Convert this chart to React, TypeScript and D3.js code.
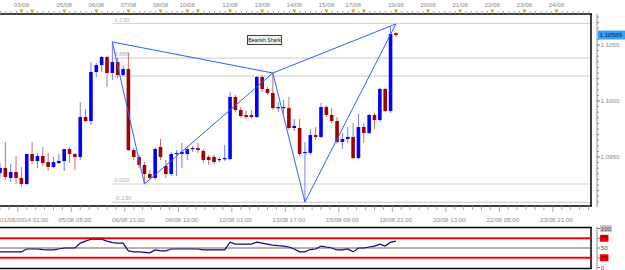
import React, { useEffect, useRef } from 'react';
import * as d3 from 'd3';

// ---- data (EURUSD-like H4 candles) ----
const opens = [1.09357,1.09402,1.09313,1.09366,1.09313,1.09259,1.09527,1.09464,1.09509,1.09455,1.09411,1.09446,1.09464,1.09571,1.09527,1.09500,1.09857,1.09821,1.10259,1.10321,1.10393,1.10250,1.10348,1.10232,1.10286,1.09562,1.09500,1.09429,1.09348,1.09313,1.09589,1.09420,1.09348,1.09527,1.09527,1.09527,1.09571,1.09580,1.09554,1.09500,1.09500,1.09473,1.09482,1.09482,1.10036,1.09920,1.09875,1.09875,1.09857,1.10214,1.10107,1.10071,1.09938,1.09938,1.09938,1.09759,1.09759,1.09536,1.09536,1.09696,1.09679,1.09946,1.09875,1.09821,1.09634,1.09661,1.09679,1.09491,1.09768,1.09714,1.09875,1.09830,1.10107,1.09911,1.10605];
const highs = [1.09446,1.09634,1.09438,1.09509,1.09411,1.09527,1.09634,1.09536,1.09589,1.09536,1.09500,1.09527,1.09571,1.09589,1.09536,1.09991,1.09929,1.10348,1.10339,1.10402,1.10402,1.10527,1.10384,1.10313,1.10429,1.09580,1.09518,1.09455,1.09384,1.09589,1.09661,1.09473,1.09545,1.09562,1.09625,1.09598,1.09598,1.09625,1.09571,1.09518,1.09518,1.09500,1.09607,1.10080,1.10054,1.09946,1.09911,1.09920,1.10223,1.10232,1.10125,1.10250,1.09991,1.10009,1.10036,1.09839,1.09839,1.09634,1.09750,1.09768,1.09982,1.09964,1.09938,1.09857,1.09714,1.09768,1.09804,1.09884,1.09804,1.09884,1.09893,1.10116,1.10116,1.10661,1.10615];
const lows = [1.09313,1.09295,1.09277,1.09259,1.09232,1.09250,1.09438,1.09402,1.09420,1.09375,1.09402,1.09438,1.09375,1.09446,1.09384,1.09473,1.09813,1.09786,1.10214,1.10259,1.10125,1.10188,1.10205,1.10223,1.09554,1.09473,1.09402,1.09259,1.09295,1.09295,1.09473,1.09313,1.09330,1.09330,1.09402,1.09473,1.09545,1.09536,1.09446,1.09429,1.09438,1.09455,1.09464,1.09473,1.09902,1.09848,1.09839,1.09848,1.09848,1.10080,1.10054,1.09920,1.09902,1.09884,1.09741,1.09732,1.09509,1.09098,1.09518,1.09652,1.09670,1.09857,1.09804,1.09616,1.09571,1.09625,1.09482,1.09482,1.09625,1.09705,1.09750,1.09813,1.09902,1.09893,1.10571];
const closes = [1.09402,1.09321,1.09366,1.09313,1.09259,1.09527,1.09464,1.09509,1.09446,1.09411,1.09455,1.09464,1.09571,1.09527,1.09500,1.09857,1.09821,1.10259,1.10321,1.10393,1.10250,1.10348,1.10232,1.10286,1.09562,1.09500,1.09429,1.09348,1.09313,1.09571,1.09500,1.09348,1.09527,1.09536,1.09545,1.09571,1.09580,1.09562,1.09473,1.09473,1.09455,1.09482,1.09491,1.10036,1.09920,1.09866,1.09857,1.09857,1.10214,1.10107,1.10071,1.09938,1.09946,1.09946,1.09759,1.09777,1.09527,1.09545,1.09696,1.09679,1.09946,1.09875,1.09821,1.09634,1.09661,1.09679,1.09491,1.09768,1.09714,1.09875,1.09830,1.10107,1.09911,1.10598,1.10589];

const rsiValues = [40,40,40,40,40,47.5,47.5,47.5,46,45,45,47.5,50,50,50,62.5,67.5,72.5,72.5,72.5,67.5,64,62.5,62.5,42.5,40,40,39,37.5,45,42.5,42.5,47.5,47.5,47.5,47.5,47.5,47.5,45,45,45,45,45,65,60,60,60,60,65,62.5,60,57.5,56,55,52.5,47.5,40,40,46,47.5,55,52.5,50,45,45,47.5,40,50,50,52.5,55,60,55,65,67.5];

// top axis: day labels at candle index
const topLabels = ['03/08','05/08','06/08','07/08','08/08','10/08','12/08','13/08','14/08','15/08','17/08','19/08','20/08','21/08','22/08','23/08','24/08'];
const topLabelIdx = [4,12,18,24,30,35,43,49,55,61,66,74,80,86,92,98,104];
const extraMarkerIdx = [6,37,68];

const bottomLabels = ['01/08/2014 01:00','05/08 05:00','06/08 21:00','08/08 13:00','12/08 01:00','13/08 17:00','15/08 09:00','18/08 21:00','20/08 13:00','22/08 05:00','23/08 21:00'];
const bottomLabelIdx = [0,14,24,34,44,54,64,74,84,94,104];

const priceTicks = [1.095, 1.1, 1.105];
const priceTickLabels = ['1.0950','1.1000','1.1050'];
const lastPriceLabel = '1.10589';

// harmonic pattern points (index, price)
const patternIdx = [21, 27, 51, 57, 74];
const patternPrice = [1.10527, 1.09259, 1.10250, 1.09098, 1.10688];
const fibRatios = [1.13, 0.886, 0.76, 0, -0.13];
const fibLabels = ['1.130', '0.886', '', '0.000', '-0.130'];
const patternName = 'Bearish Shark';

const rsiLevels = [100, 75, 50, 25, 0];

export default function App() {
  const ref = useRef<SVGSVGElement>(null);
  useEffect(() => {
    const svg = d3.select(ref.current);
    svg.selectAll('*').remove();
    const font = 'Liberation Sans, Arial, sans-serif';
    const R = 591, T = 14, B = 206;
    const x = d3.scaleLinear().domain([0, 1]).range([0, 5.35]);
    const y = d3.scaleLinear().domain([1.095, 1.105]).range([157, 45]);

    svg.append('rect').attr('width', 625).attr('height', 270).attr('fill', '#fff');

    // fib lines
    const X = patternPrice[0], A = patternPrice[1];
    fibRatios.forEach((r, k) => {
      const p = A + r * (X - A);
      svg.append('line').attr('x1', x(patternIdx[0])).attr('x2', R).attr('y1', y(p)).attr('y2', y(p))
        .attr('stroke', '#d4d4d4').attr('stroke-width', 1.2);
      if (fibLabels[k]) svg.append('text').attr('x', x(patternIdx[0]) + 2).attr('y', y(p) - 2)
        .attr('font-family', font).attr('font-size', 6).attr('fill', '#b0b0b0').text(fibLabels[k]);
    });

    // candles
    const bw = 3.6;
    closes.forEach((c, i) => {
      const o = opens[i];
      const up = c >= o;
      const col = up ? '#0000ff' : '#a00000';
      const wcol = up ? '#7a7aff' : '#c87070';
      const cx = x(i);
      svg.append('line').attr('x1', cx).attr('x2', cx).attr('y1', y(highs[i])).attr('y2', y(lows[i]))
        .attr('stroke', wcol).attr('stroke-width', 1);
      const top = y(Math.max(o, c)), bot = y(Math.min(o, c));
      svg.append('rect').attr('x', cx - bw / 2).attr('y', top).attr('width', bw).attr('height', Math.max(1.2, bot - top))
        .attr('fill', col);
    });

    // pattern lines
    const pts = patternIdx.map((d, k) => [x(d), y(patternPrice[k])] as [number, number]);
    const segs = [[0,1],[1,2],[2,3],[3,4],[0,2],[2,4]];
    segs.forEach(([a, b]) => {
      svg.append('line').attr('x1', pts[a][0]).attr('y1', pts[a][1]).attr('x2', pts[b][0]).attr('y2', pts[b][1])
        .attr('stroke', '#2a62ff').attr('stroke-width', 1);
    });

    // pattern label
    svg.append('rect').attr('x', 247.5).attr('y', 35.5).attr('width', 34).attr('height', 9)
      .attr('fill', '#f0f0f0').attr('stroke', '#404040').attr('stroke-width', 1);
    svg.append('text').attr('x', 264.5).attr('y', 42.3).attr('text-anchor', 'middle')
      .attr('font-family', font).attr('font-size', 5.2).attr('fill', '#202020').text(patternName);

    // frame
    svg.append('line').attr('x1', 0).attr('x2', R + 1).attr('y1', T).attr('y2', T).attr('stroke', '#000').attr('stroke-width', 1.5);
    svg.append('line').attr('x1', 0).attr('x2', R + 1).attr('y1', B).attr('y2', B).attr('stroke', '#000').attr('stroke-width', 1.5);
    svg.append('line').attr('x1', R).attr('x2', R).attr('y1', T).attr('y2', B).attr('stroke', '#000').attr('stroke-width', 1.5);

    // top axis
    for (let i = 0; i < 111; i++) {
      svg.append('line').attr('x1', x(i) + 0.5).attr('x2', x(i) + 0.5).attr('y1', T).attr('y2', T - 3)
        .attr('stroke', '#909090').attr('stroke-width', 0.8);
    }
    [...topLabelIdx, ...extraMarkerIdx].forEach(i => {
      const cx = x(i);
      svg.append('path').attr('d', `M${cx - 2},${9.5}L${cx + 2},${9.5}L${cx},${13}Z`).attr('fill', '#e0a010');
    });
    topLabels.forEach((t, k) => {
      svg.append('text').attr('x', x(topLabelIdx[k])).attr('y', 7).attr('text-anchor', 'middle')
        .attr('font-family', font).attr('font-size', 6.2).attr('fill', '#8a8a8a').text(t);
    });

    // right price axis
    svg.append('line').attr('x1', 597).attr('x2', 597).attr('y1', T).attr('y2', B + 1).attr('stroke', '#909090');
    for (let p = 1.0905; p < 1.1075; p += 0.0005) {
      const yy = y(p);
      if (yy < T || yy > B) continue;
      svg.append('line').attr('x1', 597).attr('x2', 599).attr('y1', yy).attr('y2', yy).attr('stroke', '#909090');
    }
    priceTicks.forEach((p, k) => {
      svg.append('line').attr('x1', 597).attr('x2', 600).attr('y1', y(p)).attr('y2', y(p)).attr('stroke', '#808080');
      svg.append('text').attr('x', 600.5).attr('y', y(p) + 2.2).attr('font-family', font).attr('font-size', 6.2)
        .attr('fill', '#8a8a8a').text(priceTickLabels[k]);
    });
    const lp = y(closes[closes.length - 1]);
    svg.append('rect').attr('x', 598).attr('y', lp - 4.5).attr('width', 27).attr('height', 9).attr('fill', '#3aa0ff');
    svg.append('text').attr('x', 599.5).attr('y', lp + 2.2).attr('font-family', font).attr('font-size', 6.2)
      .attr('fill', '#0c1c50').text(lastPriceLabel);

    // bottom axis
    const step = 10 / 6;
    for (let k = 0; k * step < 111; k++) {
      const i = k * step;
      const major = k % 6 === 2;
      svg.append('line').attr('x1', x(i)).attr('x2', x(i)).attr('y1', B).attr('y2', B + (major ? 6 : 4))
        .attr('stroke', '#909090').attr('stroke-width', 0.8);
    }
    bottomLabels.forEach((t, k) => {
      const first = k === 0;
      svg.append('text').attr('x', first ? 0 : x(bottomLabelIdx[k])).attr('y', 222)
        .attr('text-anchor', first ? 'start' : 'middle')
        .attr('font-family', font).attr('font-size', 6.2).attr('fill', '#8a8a8a').text(t);
    });

    // RSI panel
    const rs = d3.scaleLinear().domain([0, 100]).range([267.5, 228.5]);
    svg.append('line').attr('x1', 0).attr('x2', R + 1).attr('y1', 227.5).attr('y2', 227.5).attr('stroke', '#000').attr('stroke-width', 1.5);
    svg.append('line').attr('x1', 0).attr('x2', R + 1).attr('y1', 268.5).attr('y2', 268.5).attr('stroke', '#000').attr('stroke-width', 1.5);
    svg.append('line').attr('x1', R).attr('x2', R).attr('y1', 227).attr('y2', 269).attr('stroke', '#000').attr('stroke-width', 1.5);
    [75, 25].forEach(v => svg.append('line').attr('x1', 0).attr('x2', R).attr('y1', rs(v)).attr('y2', rs(v))
      .attr('stroke', '#ff0000').attr('stroke-width', 2));
    svg.append('line').attr('x1', 0).attr('x2', R).attr('y1', rs(50)).attr('y2', rs(50)).attr('stroke', '#404040').attr('stroke-width', 0.8);
    const line = d3.line<number>().x((_, i) => x(i)).y(d => rs(d));
    svg.append('path').attr('d', line(rsiValues)).attr('fill', 'none').attr('stroke', '#0a0a80').attr('stroke-width', 1.2);

    svg.append('line').attr('x1', 597).attr('x2', 597).attr('y1', 227).attr('y2', 269).attr('stroke', '#909090');
    rsiLevels.forEach(v => {
      const yy = rs(v);
      svg.append('line').attr('x1', 597).attr('x2', 600).attr('y1', yy).attr('y2', yy).attr('stroke', '#808080');
      const lbl = String(v);
      const isRed = v === 75 || v === 25;
      const bg = isRed ? '#ff0000' : v === 100 ? '#c8c8c8' : null;
      if (bg) svg.append('rect').attr('x', 600).attr('y', yy - 3.5).attr('width', lbl.length * 3.5 + 1.5).attr('height', 7).attr('fill', bg);
      svg.append('text').attr('x', 600.7).attr('y', yy + 2.2).attr('font-family', font).attr('font-size', 6.2)
        .attr('fill', isRed ? '#5a0000' : '#505050').text(lbl);
    });
  }, []);
  return <svg ref={ref} width={625} height={270} style={{ position: 'absolute', left: 0, top: 0 }} />;
}
